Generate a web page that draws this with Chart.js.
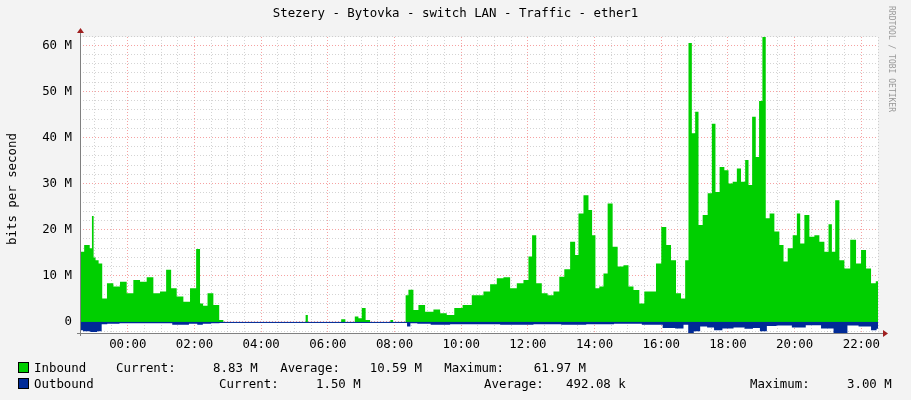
<!DOCTYPE html>
<html><head><meta charset="utf-8">
<script src="https://cdn.jsdelivr.net/npm/chart.js@4/dist/chart.umd.min.js"></script>
<style>
body{margin:0;background:#f3f3f3;font-family:"DejaVu Sans Mono",monospace;color:#000}
#wrap{position:relative;width:911px;height:400px}
.t{position:absolute;white-space:pre;font-size:12.4px;line-height:14px}
.sq{position:absolute;width:9px;height:9px;border:1px solid #000}
</style></head><body>
<div id="wrap">
<canvas id="c" width="911" height="400"></canvas>
<div class="t" style="left:0;width:911px;text-align:center;top:6px">Stezery - Bytovka - switch LAN - Traffic - ether1</div>
<div class="t" style="left:5px;top:245px;transform:rotate(-90deg);transform-origin:left top">bits per second</div>
<div class="t" style="left:898px;top:6px;transform:rotate(90deg);transform-origin:left top;font-size:8px;color:#999">RRDTOOL / TOBI OETIKER</div>
<div class="sq" style="left:18px;top:362px;background:#00CF00"></div>
<div class="t" style="left:34px;top:361px">Inbound    Current:     8.83 M   Average:    10.59 M   Maximum:    61.97 M</div>
<div class="sq" style="left:18px;top:378px;background:#002A97"></div>
<div class="t" style="left:34px;top:377px">Outbound</div>
<div class="t" style="left:219px;top:377px">Current:     1.50 M</div>
<div class="t" style="left:484px;top:377px">Average:   492.08 k</div>
<div class="t" style="left:750px;top:377px">Maximum:     3.00 M</div>
</div>
<script>
const inTimes=[-86,-71,-66,-63,-60,-56,-49,-43,-32,-20,-8,4,16,28,40,52,64,74,82,94,106,118,128,132,139,148,160,169,175,318,322,326,380,388,395,405,412,418,424,432,440,470,475,480,498,502,508,520,526,544,556,568,580,595,610,628,634,646,658,670,682,694,706,718,724,731,739,751,760,772,781,790,802,808,814,826,832,839,844,853,859,868,877,886,898,904,916,925,934,946,955,965,973,982,991,1000,1006,1012,1018,1024,1030,1039,1048,1054,1061,1069,1078,1084,1093,1099,1108,1114,1120,1127,1133,1139,1145,1151,1159,1168,1177,1183,1192,1201,1207,1213,1222,1231,1240,1249,1258,1264,1270,1276,1285,1294,1306,1315,1324,1333,1342,1350];
const inValues=[15.2,16.7,16,23,14,13.4,12.7,5.1,8.4,7.7,8.7,6.2,9.1,8.7,9.7,6.2,6.6,11.3,7.3,5.5,4.4,7.3,15.8,4,3.5,6.2,3.7,0.4,0,0,1.5,0,0,0.6,0,0,1.2,0.8,3,0.4,0,0,0.4,0,0,5.8,7,2.6,3.7,2.2,2.7,1.9,1.5,3,3.7,5.8,5.8,6.6,8.2,9.5,9.7,7.3,8.4,9.1,14.2,18.8,8.4,6.2,5.8,6.6,9.8,11.4,17.4,14.5,23.5,27.5,24.3,18.8,7.3,7.7,10.5,25.7,16.3,12,12.3,7.7,6.9,4,6.6,6.6,12.7,20.6,16.7,13.4,6.2,5.1,13.4,60.5,40.9,45.6,21,23.2,27.9,43,28.2,33.6,32.9,30,30.4,33.3,30.4,35.1,29.7,44.5,35.8,47.9,62,22.5,23.5,19.6,16.7,13.1,16,18.8,23.5,17,23.2,18.5,18.8,17.4,15.2,21.2,15.2,26.4,13.4,11.6,17.8,12.7,15.6,11.6,8.4,8.8];
const outTimes=[-86,-75,-60,-50,-44,-30,0,60,100,120,130,140,160,170,500,505,512,530,560,600,640,700,760,800,850,900,950,975,995,1005,1012,1025,1035,1050,1060,1080,1100,1120,1130,1145,1155,1180,1210,1230,1265,1275,1290,1300,1330,1345,1350];
const outValues=[-1.8,-2.0,-2.2,-2.0,-0.5,-0.4,-0.3,-0.3,-0.6,-0.4,-0.6,-0.4,-0.3,-0.1,-0.1,-1.0,-0.3,-0.4,-0.6,-0.5,-0.5,-0.6,-0.5,-0.6,-0.5,-0.4,-0.6,-1.3,-1.4,-0.6,-2.6,-2.0,-1.0,-1.2,-1.8,-1.4,-1.2,-1.5,-1.3,-2.0,-0.9,-0.8,-1.2,-0.7,-1.4,-2.9,-2.6,-0.8,-1.0,-1.8,-1.5];
const yTicks=[];for(let v=-2;v<=62;v+=2)yTicks.push(v);
const xTicks=[];for(let m=-60;m<=1350;m+=30)xTicks.push(m);
const pts=(t,v)=>t.map((x,i)=>({x,y:v[i]}));
const dot=[1,2];
const bg={id:'bg',beforeDraw(ch){const a=ch.chartArea,c=ch.ctx;c.save();c.fillStyle='#fff';c.fillRect(a.left,a.top,a.right-a.left,a.bottom-a.top);c.restore();},
afterDraw(ch){const a=ch.chartArea,c=ch.ctx,y0=ch.scales.y.getPixelForValue(0);c.save();
c.strokeStyle='#002A97';c.lineWidth=1;c.beginPath();c.moveTo(a.left,y0+0.5);c.lineTo(a.right,y0+0.5);c.stroke();
c.strokeStyle='#808080';c.beginPath();c.moveTo(a.left-3,a.bottom+0.5);c.lineTo(a.right+6,a.bottom+0.5);c.moveTo(a.left+0.5,a.bottom+3);c.lineTo(a.left+0.5,a.top-5);c.stroke();
c.fillStyle='#a02020';c.beginPath();c.moveTo(a.right+5,a.bottom-3);c.lineTo(a.right+10,a.bottom+0.5);c.lineTo(a.right+5,a.bottom+4);c.fill();
c.beginPath();c.moveTo(a.left-3,a.top-4);c.lineTo(a.left+0.5,a.top-9);c.lineTo(a.left+4,a.top-4);c.fill();c.restore();}};
new Chart(document.getElementById('c'),{type:'line',
data:{datasets:[
{data:pts(inTimes,inValues),borderWidth:0,backgroundColor:'#00CF00',fill:'origin',pointRadius:0,stepped:'middle'},
{data:pts(outTimes,outValues),borderWidth:0,backgroundColor:'#002A97',fill:'origin',pointRadius:0,stepped:'middle'}]},
options:{responsive:false,animation:false,events:[],
layout:{padding:{left:0,right:33,top:37,bottom:47}},
plugins:{legend:{display:false},tooltip:{enabled:false}},
scales:{
x:{type:'linear',min:-86,max:1350,afterBuildTicks(s){s.ticks=xTicks.map(v=>({value:v}));},
afterFit(s){s.height=20;},
ticks:{autoSkip:false,maxRotation:0,color:'#000',font:{family:'DejaVu Sans Mono',size:12.4},padding:4,
callback:v=>{if(v%120!==0)return '';const h=((v/60)%24+24)%24;return String(h).padStart(2,'0')+':00';}},
grid:{drawTicks:false,color:c=>c.tick&&c.tick.value%120===0?'rgba(240,100,100,0.6)':'rgba(170,170,170,0.5)',borderDash:dot},
border:{display:false,dash:dot}},
y:{min:-2.4,max:61.8,afterBuildTicks(s){s.ticks=yTicks.map(v=>({value:v}));},
afterFit(s){s.width=80;},
ticks:{autoSkip:false,color:'#000',font:{family:'DejaVu Sans Mono',size:12.4},padding:8,
callback:v=>v%10!==0?'':(v===0?'0':v+' M')},
grid:{drawTicks:false,color:c=>c.tick&&c.tick.value%10===0?'rgba(240,100,100,0.6)':'rgba(170,170,170,0.5)'},
border:{display:false,dash:dot}}}},
plugins:[bg]});
</script></body></html>
